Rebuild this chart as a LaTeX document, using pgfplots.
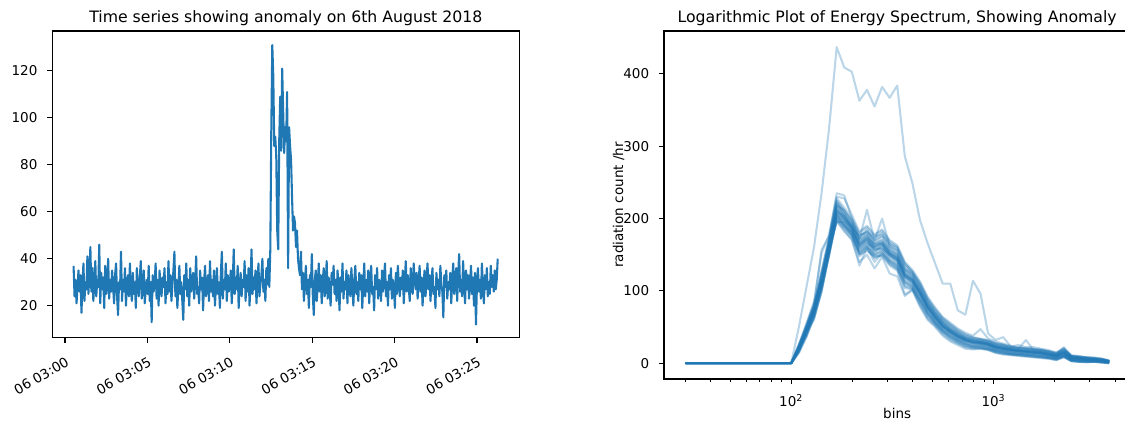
\documentclass[border=0pt]{standalone}
\usepackage{fontspec}
\setmainfont{DejaVu Sans}
\usepackage{pgfplots}
\usepackage{pgfplotstable}
\pgfplotsset{compat=1.18}
\definecolor{tabblue}{HTML}{1F77B4}

\newcommand\tickfont{\fontsize{13.5}{16.2}\selectfont}
\newcommand\titlefont{\fontsize{15.7}{19}\selectfont}

\pgfplotsset{
  mpl/.style={
    scale only axis,
    clip=true,
    axis line style={line width=1.1pt},
    tick align=outside,
    xtick pos=left, ytick pos=left,
    major tick length=4.9pt,
    minor tick length=2.8pt,
    every major tick/.append style={black, line width=1.1pt},
    every minor tick/.append style={black, line width=0.83pt},
    tick label style={font=\tickfont, inner sep=0pt},
    /pgf/number format/assume math mode=true,
    yticklabel style={anchor=east, xshift=-9.8pt},
    every axis title/.style={at={(axis description cs:0.5,1)}, anchor=base, yshift=8pt, font=\titlefont},
    every axis x label/.style={at={(axis description cs:0.5,0)}, anchor=base, yshift=-39.5pt, font=\tickfont},
    every axis y label/.style={at={(axis description cs:0,0.5)}, xshift=-41pt, rotate=90, anchor=base, font=\tickfont},
  },
}

% energy spectrum: bin centre, anomalous hour (a), regular hours (l1..l28)
\pgfplotstableread{
x a l1 l2 l3 l4 l5 l6 l7 l8 l9 l10 l11 l12 l13 l14 l15 l16 l17 l18 l19 l20 l21 l22 l23 l24 l25 l26 l27 l28
30.0 0 0 0 0 0 0 0 0 0 0 0 0 0 0 0 0 0 0 0 0 0 0 0 0 0 0 0 0 0
100.2 0 0 0 0 0 0 0 0 0 0 0 0 0 0 0 0 0 0 0 0 0 0 0 0 0 0 0 0 0
109.3 50 18 22 16 25 20 14 23 19 21 17 26 20 15 22 19 24 21 17 24 19 23 16 20 25 18 22 19 21
119.1 105 46 42 39 50 48 36 52 45 41 44 55 38 43 49 47 51 44 40 49 47 53 37 45 50 42 46 48 41
129.8 160 68 74 66 78 72 64 80 70 76 62 85 71 60 77 73 82 71 65 78 74 82 63 70 79 67 73 75 69
141.5 235 106 118 110 122 112 100 157 104 115 98 152 120 102 125 108 111 113 105 120 116 128 101 109 124 107 114 118 110
154.2 325 155 168 158 165 160 150 175 148 170 152 178 163 157 172 150 159 162 153 169 161 174 151 158 171 156 164 166 155
168.1 437 214 205 208 218 196 210 235 200 222 198 230 209 195 225 206 220 212 199 219 211 228 201 207 224 204 215 216 203
183.2 409 200 193 196 212 184 203 232 188 205 182 228 198 195 210 190 208 199 187 206 201 215 189 197 211 192 204 202 191
199.7 403 190 178 186 195 170 183 200 175 192 172 205 185 180 198 182 188 187 176 193 189 201 177 184 196 181 190 188 179
217.7 363 168 152 160 174 140 163 172 150 170 135 182 158 157 178 165 176 164 148 171 166 180 153 161 173 155 167 162 151
237.3 378 175 162 168 185 150 170 212 155 178 160 190 166 165 180 172 182 171 158 179 173 188 161 169 183 163 176 174 159
258.6 355 163 150 158 168 131 155 170 148 165 140 178 153 160 172 158 175 160 146 166 162 176 149 156 170 151 164 161 145
281.9 382 168 155 160 175 147 158 200 148 170 152 185 163 165 180 158 178 164 151 171 166 183 153 162 176 156 167 166 150
307.3 367 155 142 150 160 124 148 162 135 158 140 170 146 152 165 150 165 151 138 157 153 168 141 149 162 143 154 152 137
334.9 384 148 135 142 152 120 140 155 128 150 132 163 138 145 160 143 158 144 131 150 146 161 134 142 156 136 147 145 130
365.1 286 125 112 120 130 93 118 130 95 128 108 140 115 122 138 120 135 121 106 127 123 137 111 119 132 113 124 122 104
397.9 249 117 106 112 121 101 110 124 102 120 104 129 109 115 126 113 125 114 103 119 116 127 105 112 123 107 116 115 102
433.8 198 100 88 95 104 78 93 105 80 102 86 113 91 98 110 96 108 97 84 101 99 111 87 95 106 89 99 97 82
472.8 166 80 70 76 84 60 74 85 62 82 68 92 72 78 88 77 88 77 66 81 79 90 69 75 85 70 79 78 64
515.3 138 66 57 62 69 50 60 70 52 68 55 77 59 64 74 63 72 63 54 67 65 75 56 61 70 57 65 64 53
561.7 110 54 46 50 57 38 49 58 40 56 44 64 47 52 62 51 60 51 43 55 53 62 45 50 58 46 53 52 42
612.3 110 46 38 42 48 30 41 50 32 47 36 56 40 44 54 43 52 43 35 46 45 53 37 42 49 38 45 44 34
667.4 73 39 32 36 41 25 34 42 27 40 30 48 33 37 46 36 44 37 29 39 38 45 31 35 42 32 38 37 28
727.4 67 34 27 31 35 20 30 36 22 35 25 42 28 32 40 31 38 32 24 33 33 39 26 30 36 27 33 32 23
792.9 114 31 24 28 32 19 27 33 20 32 22 38 25 29 36 28 35 29 22 30 30 35 23 27 33 24 30 29 21
864.2 96 30 24 27 31 20 26 32 21 29 22 47 25 28 34 27 33 28 21 29 29 33 23 26 31 23 29 28 20
942.0 41 27 22 25 29 18 24 30 19 28 20 34 23 26 32 25 31 26 19 27 27 31 21 24 29 21 27 26 19
1026.8 32 24 18 21 25 14 20 26 15 23 17 30 19 22 28 21 27 22 16 23 23 27 17 20 25 18 23 22 15
1119.2 36 21 16 19 23 12 18 24 13 22 15 27 17 20 26 19 25 20 14 21 21 25 15 18 23 16 21 20 13
1219.9 23 19 14 17 20 11 16 21 12 19 13 24 15 18 23 17 22 18 12 19 19 22 13 16 21 14 19 18 12
1329.6 25 18 13 16 19 10 15 20 11 17 13 22 14 17 21 16 21 17 11 18 18 21 12 15 20 13 18 17 11
1449.3 22 17 12 15 18 9 14 32 10 16 12 21 13 16 20 15 20 16 10 17 17 20 11 14 19 12 17 16 10
1579.7 22 16 11 14 17 8 13 18 9 15 11 20 12 15 19 14 19 15 9 16 16 19 10 13 18 11 16 15 9
1721.9 20 15 10 13 16 7 12 17 8 14 10 19 11 14 18 13 18 14 8 15 15 18 9 12 17 10 15 14 8
1876.8 18 13 9 11 14 6 10 15 7 12 8 17 10 12 16 11 16 12 7 13 13 16 8 10 15 8 13 12 7
2045.7 14 11 7 9 12 4 8 12 5 10 7 15 8 10 13 9 13 10 5 11 11 14 6 8 12 6 11 10 5
2229.8 18 15 11 13 17 8 12 22 9 14 10 21 12 15 19 13 18 14 9 16 15 20 10 12 18 10 15 14 9
2430.5 9 8 4 6 9 3 5 9 3 7 4 11 5 7 10 6 10 7 3 8 8 10 4 6 9 4 8 7 3
2649.2 8 7 4 5 8 2 5 8 2 6 3 10 4 6 9 5 9 6 2 7 7 9 3 5 8 3 7 6 2
2887.6 6 6 3 4 7 1 4 7 2 5 3 8 4 5 8 4 8 5 2 6 6 8 2 4 7 3 6 5 2
3147.5 6 5 3 4 6 2 4 6 2 5 3 8 3 5 7 4 7 5 2 5 5 7 2 4 6 3 5 5 2
3430.8 5 4 2 3 5 1 3 5 1 4 2 6 3 4 6 3 6 4 1 4 4 6 2 3 5 2 4 4 1
3739.5 3 2 1 2 3 0 1 3 0 2 1 4 1 2 3 2 3 2 0 2 2 3 1 2 3 1 2 2 0
}\spec

\begin{document}
\begin{tikzpicture}
\useasboundingbox (0pt,0pt) rectangle (1125pt,423pt);

% ---- left: counts over time (minutes after 03:00, one reading every 3.6 s)
\begin{axis}[mpl,
  at={(52.3pt,85.3pt)}, anchor=south west,
  width=467pt, height=306.7pt,
  xmin=-0.77, xmax=27.57, ymin=6.37, ymax=137.0,
  xtick={0,5,10,15,20,25},
  xticklabels={06 03:00,06 03:05,06 03:10,06 03:15,06 03:20,06 03:25},
  xticklabel style={yshift=-13.4pt, anchor=north east, rotate=30},
  ytick={20,40,60,80,100,120},
  title={Time series showing anomaly on 6th August 2018},
]
\addplot[tabblue, line width=2.08pt, line join=round, mark=none]
  table[x expr={0.52+0.06*\coordindex}, y=v, row sep=\\] {
v\\
37\\24\\31\\21\\28\\35\\26\\33\\17\\29\\
38\\22\\30\\27\\41\\25\\33\\45\\26\\36\\
22\\30\\39\\24\\31\\28\\46\\21\\34\\27\\
32\\19\\37\\25\\29\\40\\23\\31\\26\\35\\
28\\21\\33\\38\\24\\16\\30\\27\\43\\22\\
31\\26\\36\\20\\29\\33\\24\\38\\27\\22\\
34\\25\\30\\19\\36\\28\\24\\32\\39\\23\\
29\\35\\21\\27\\31\\25\\37\\22\\30\\13\\
33\\26\\29\\38\\23\\31\\20\\35\\27\\24\\
32\\28\\36\\21\\30\\25\\39\\26\\33\\22\\
29\\35\\43\\24\\31\\19\\28\\37\\25\\30\\
22\\14\\33\\27\\38\\24\\31\\20\\36\\26\\
29\\34\\23\\30\\41\\25\\28\\21\\35\\27\\
32\\18\\30\\37\\24\\29\\33\\22\\39\\26\\
31\\24\\35\\20\\28\\36\\25\\30\\19\\34\\
43\\23\\31\\27\\38\\22\\33\\26\\29\\35\\
21\\30\\44\\25\\32\\27\\37\\19\\29\\34\\
24\\31\\28\\39\\22\\33\\26\\36\\20\\30\\
44\\25\\32\\27\\35\\21\\30\\38\\24\\29\\
33\\40\\26\\31\\22\\36\\29\\40\\28\\44\\
95\\131\\118\\88\\92\\84\\52\\44\\90\\109\\
86\\121\\103\\85\\96\\90\\111\\36\\96\\88\\
82\\66\\52\\58\\55\\45\\52\\40\\36\\33\\
43\\27\\34\\22\\30\\37\\25\\31\\19\\33\\
28\\42\\24\\16\\31\\35\\22\\29\\38\\26\\
33\\21\\30\\36\\24\\28\\39\\23\\32\\27\\
20\\34\\29\\37\\25\\31\\22\\35\\28\\18\\
32\\26\\38\\23\\30\\27\\35\\21\\33\\29\\
24\\36\\28\\20\\31\\37\\25\\30\\22\\34\\
27\\33\\19\\29\\38\\24\\31\\26\\35\\21\\
30\\37\\25\\28\\18\\33\\27\\36\\23\\31\\
29\\22\\35\\26\\32\\38\\24\\30\\20\\33\\
27\\36\\23\\31\\28\\19\\34\\25\\37\\29\\
24\\32\\27\\35\\21\\30\\39\\26\\33\\28\\
22\\36\\29\\25\\38\\31\\27\\34\\23\\30\\
37\\26\\32\\20\\29\\35\\24\\31\\38\\27\\
33\\22\\30\\36\\25\\28\\19\\34\\27\\31\\
24\\37\\29\\26\\15\\33\\28\\35\\23\\30\\
27\\34\\21\\31\\38\\25\\29\\36\\22\\33\\
42\\26\\31\\24\\39\\28\\21\\35\\27\\33\\
23\\30\\37\\25\\32\\20\\34\\12\\29\\36\\
26\\31\\23\\38\\28\\21\\33\\27\\36\\24\\
30\\25\\37\\28\\33\\26\\35\\27\\31\\40\\
};
\end{axis}

% ---- right: spectra on a logarithmic bin axis
\begin{axis}[mpl,
  at={(664pt,44pt)}, anchor=south west,
  width=466.3pt, height=348pt,
  xmode=log,
  xmin=23.55, xmax=4753, ymin=-21.9, ymax=459.4,
  xtick={100,1000},
  xticklabels={10\textsuperscript{2},10\textsuperscript{3}},
  minor xtick={30,40,50,60,70,80,90,200,300,400,500,600,700,800,900,2000,3000,4000},
  xticklabel style={anchor=base, yshift=-23pt},
  ytick={0,100,200,300,400},
  title={Logarithmic Plot of Energy Spectrum, Showing Anomaly},
  xlabel={bins},
  ylabel={radiation count /hr},
]
\addplot[tabblue, line width=2.08pt, draw opacity=0.3, line join=round, mark=none]
  table[x=x, y=a] {\spec};
\pgfplotsinvokeforeach{1,...,28}{
  \addplot[tabblue, line width=2.08pt, draw opacity=0.3, line join=round, mark=none]
    table[x=x, y=l#1] {\spec};
}
\end{axis}
\end{tikzpicture}
\end{document}
